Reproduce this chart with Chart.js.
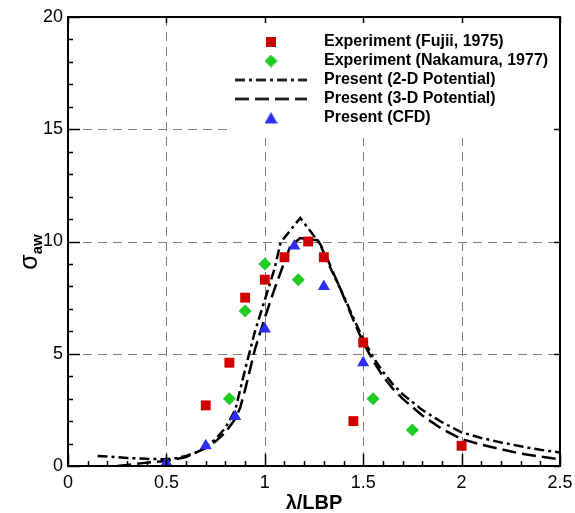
<!DOCTYPE html>
<html lang="en">
<head>
<meta charset="UTF-8">
<title>Added wave resistance</title>
<script src="https://cdn.jsdelivr.net/npm/chart.js"></script>
<style>
    body { margin: 0; background: white; }
</style>
</head>
<body>
<canvas id="chart" width="575" height="513"></canvas>
<script>
// experiments
const fujiiX = [0.7, 0.82, 0.9, 1.0, 1.1, 1.22, 1.3, 1.5, 1.45, 2.0];
const fujiiY = [2.7, 4.6, 7.5, 8.3, 9.3, 10.0, 9.3, 5.5, 2.0, 0.9];
const nakamuraX = [0.82, 0.9, 1.0, 1.17, 1.55, 1.75];
const nakamuraY = [3.0, 6.9, 9.0, 8.3, 3.0, 1.6];
// present calculations
const cfdX = [0.5, 0.7, 0.85, 1.0, 1.15, 1.3, 1.5];
const cfdY = [0.15, 0.9, 2.2, 6.1, 9.8, 8.0, 4.6];
const pot2dX = [0.15, 0.2, 0.3, 0.4, 0.5, 0.55, 0.6, 0.65, 0.7, 0.75, 0.8, 0.85, 0.9, 0.95, 1.0, 1.05, 1.08, 1.18, 1.28, 1.34, 1.4, 1.45, 1.5, 1.55, 1.6, 1.65, 1.7, 1.8, 1.9, 2.0, 2.1, 2.2, 2.3, 2.4, 2.5];
const pot2dY = [0.45, 0.42, 0.36, 0.32, 0.3, 0.35, 0.45, 0.6, 0.85, 1.2, 1.7, 2.5, 4.3, 6.0, 7.4, 8.8, 9.95, 11.05, 9.9, 8.7, 7.6, 6.6, 5.65, 4.85, 4.2, 3.65, 3.2, 2.5, 1.95, 1.5, 1.25, 1.05, 0.88, 0.72, 0.6];
const pot3dX = [0.25, 0.3, 0.4, 0.5, 0.6, 0.7, 0.75, 0.8, 0.85, 0.875, 0.9, 0.95, 1.0, 1.05, 1.1, 1.13, 1.18, 1.27, 1.3, 1.4, 1.45, 1.5, 1.55, 1.6, 1.65, 1.7, 1.8, 1.9, 2.0, 2.1, 2.2, 2.3, 2.4, 2.5];
const pot3dY = [0.0, 0.05, 0.15, 0.22, 0.4, 0.8, 1.1, 1.5, 2.1, 2.6, 3.4, 5.2, 6.6, 7.9, 9.1, 9.8, 10.15, 10.05, 9.6, 7.55, 6.5, 5.5, 4.7, 4.0, 3.45, 3.0, 2.25, 1.65, 1.2, 0.95, 0.75, 0.55, 0.42, 0.3];

const xTickStep = 0.5, xMinorStep = 0.1;
const yTickStep = 5, yMinorStep = 1;

const red = 'rgb(208,0,0)';
const green = 'rgb(34,204,34)';
const blue = 'rgb(45,45,245)';
const fontFam = "'Liberation Sans', Arial, sans-serif";

function toPts(xs, ys) {
    return xs.map((x, i) => ({ x: x, y: ys[i] }));
}

// small canvases used as legend symbols
function makeIcon(w, h, draw) {
    const c = document.createElement('canvas');
    c.width = w;
    c.height = h;
    draw(c.getContext('2d'));
    return c;
}
const iconSquare = makeIcon(10, 10, g => { g.fillStyle = red; g.fillRect(0, 0, 10, 10); });
const iconDiamond = makeIcon(13, 13, g => {
    g.fillStyle = green;
    g.beginPath(); g.moveTo(6.5, 0); g.lineTo(13, 6.5); g.lineTo(6.5, 13); g.lineTo(0, 6.5); g.closePath(); g.fill();
});
const iconDashDot = makeIcon(72, 5, g => {
    g.strokeStyle = '#000'; g.lineWidth = 2.5; g.setLineDash([10, 4, 3, 4]);
    g.beginPath(); g.moveTo(0, 2.5); g.lineTo(72, 2.5); g.stroke();
});
const iconDash = makeIcon(72, 5, g => {
    g.strokeStyle = '#000'; g.lineWidth = 2.5; g.setLineDash([14, 6]);
    g.beginPath(); g.moveTo(0, 2.5); g.lineTo(72, 2.5); g.stroke();
});
const iconTri = makeIcon(13, 12, g => {
    g.fillStyle = blue;
    g.beginPath(); g.moveTo(6.5, 0); g.lineTo(13, 11.5); g.lineTo(0, 11.5); g.closePath(); g.fill();
});
const legendIcons = [iconSquare, iconDiamond, iconDashDot, iconDash, iconTri];

// dashed grid drawn under everything, then blanked behind the legend
const gridBehind = {
    id: 'gridBehind',
    beforeDraw(chart) {
        const { ctx, chartArea: a, scales: { x, y } } = chart;
        ctx.save();
        ctx.fillStyle = '#fff';
        ctx.fillRect(0, 0, chart.width, chart.height);
        ctx.strokeStyle = '#808080';
        ctx.lineWidth = 1;
        ctx.setLineDash([9, 6]);
        ctx.beginPath();
        x.ticks.forEach(t => {
            if (t.value <= x.min || t.value >= x.max) return;
            const p = Math.round(x.getPixelForValue(t.value)) + 0.5;
            ctx.moveTo(p, a.top); ctx.lineTo(p, a.bottom);
        });
        y.ticks.forEach(t => {
            if (t.value <= y.min || t.value >= y.max) return;
            const p = Math.round(y.getPixelForValue(t.value)) + 0.5;
            ctx.moveTo(a.left, p); ctx.lineTo(a.right, p);
        });
        ctx.stroke();
        ctx.fillStyle = '#fff';
        ctx.fillRect(230, a.top + 2, a.right - 232, 119);
        ctx.restore();
    }
};

// move the legend box to the upper right of the plot
const placeLegend = {
    id: 'placeLegend',
    afterLayout(chart) {
        const lg = chart.legend;
        lg.left = 223;
        lg.top = 31;
        lg.right = chart.chartArea.right;
        lg.bottom = 150;
    }
};

// frame, inward ticks and the y title
const frame = {
    id: 'frame',
    afterDraw(chart) {
        const { ctx, chartArea: a, scales: { x, y } } = chart;
        ctx.save();
        ctx.strokeStyle = '#000';
        ctx.lineWidth = 1.5;
        ctx.beginPath();
        for (let v = x.min; v <= x.max + 1e-9; v += xMinorStep) {
            const p = Math.round(x.getPixelForValue(v)) + 0.5;
            const major = Math.abs(v / xTickStep - Math.round(v / xTickStep)) < 1e-6;
            ctx.moveTo(p, a.bottom); ctx.lineTo(p, a.bottom - (major ? 12 : 5));
            if (major) { ctx.moveTo(p, a.top); ctx.lineTo(p, a.top + 6); }
        }
        for (let v = y.min; v <= y.max + 1e-9; v += yMinorStep) {
            const p = Math.round(y.getPixelForValue(v)) + 0.5;
            const major = Math.abs(v / yTickStep - Math.round(v / yTickStep)) < 1e-6;
            ctx.moveTo(a.left, p); ctx.lineTo(a.left + (major ? 12 : 5), p);
            if (major) { ctx.moveTo(a.right, p); ctx.lineTo(a.right - 6, p); }
        }
        ctx.stroke();
        ctx.lineWidth = 2;
        ctx.strokeRect(a.left, a.top, a.right - a.left, a.bottom - a.top);

        // sigma with subscript
        ctx.translate(37, 252);
        ctx.rotate(-Math.PI / 2);
        ctx.fillStyle = '#000';
        ctx.textBaseline = 'alphabetic';
        const fSig = '25px ' + fontFam, fSub = 'bold 15px ' + fontFam;
        ctx.font = fSig;
        const sw = ctx.measureText('σ').width;
        ctx.font = fSub;
        const aw = ctx.measureText('aw').width;
        const x0 = -(sw + aw) / 2;
        ctx.font = fSig;
        ctx.fillText('σ', x0, 0);
        ctx.font = fSub;
        ctx.fillText('aw', x0 + sw, 5);
        ctx.restore();
    }
};

const tickFont = { family: fontFam, size: 18 };

new Chart(document.getElementById('chart'), {
    type: 'scatter',
    data: {
        datasets: [{
            label: 'Experiment (Fujii, 1975)',
            data: toPts(fujiiX, fujiiY),
            pointStyle: 'rect',
            pointRadius: 7,
            backgroundColor: red,
            borderColor: red,
            borderWidth: 0,
            order: 0
        }, {
            label: 'Experiment (Nakamura, 1977)',
            data: toPts(nakamuraX, nakamuraY),
            pointStyle: 'rectRot',
            pointRadius: 6.5,
            backgroundColor: green,
            borderColor: green,
            borderWidth: 0,
            order: 0
        }, {
            label: 'Present (2-D Potential)',
            data: toPts(pot2dX, pot2dY),
            showLine: true,
            borderColor: '#000',
            backgroundColor: '#000',
            borderWidth: 2.5,
            borderDash: [10, 4, 3, 4],
            pointRadius: 0,
            tension: 0,
            order: 1
        }, {
            label: 'Present (3-D Potential)',
            data: toPts(pot3dX, pot3dY),
            showLine: true,
            borderColor: '#000',
            backgroundColor: '#000',
            borderWidth: 2.5,
            borderDash: [14, 6],
            pointRadius: 0,
            tension: 0,
            order: 1
        }, {
            label: 'Present (CFD)',
            data: toPts(cfdX, cfdY),
            pointStyle: 'triangle',
            pointRadius: 7,
            backgroundColor: blue,
            borderColor: blue,
            borderWidth: 0,
            order: 0
        }]
    },
    options: {
        responsive: false,
        animation: false,
        devicePixelRatio: 1,
        layout: { padding: { top: 17, right: 15, left: 0, bottom: 0 } },
        plugins: {
            tooltip: { enabled: false },
            legend: {
                position: 'chartArea',
                align: 'start',
                labels: {
                    usePointStyle: true,
                    pointStyleWidth: 90,
                    padding: 3,
                    color: '#000',
                    font: { family: fontFam, size: 16, weight: 'bold' },
                    sort: (a, b) => a.datasetIndex - b.datasetIndex,
                    generateLabels(chart) {
                        const items = Chart.defaults.plugins.legend.labels.generateLabels(chart);
                        items.forEach(it => { it.pointStyle = legendIcons[it.datasetIndex]; });
                        return items;
                    }
                }
            }
        },
        scales: {
            x: {
                type: 'linear',
                min: 0,
                max: 2.5,
                ticks: {
                    stepSize: xTickStep, padding: 6, color: '#000', font: tickFont, maxRotation: 0,
                    callback: v => String(Math.round(v * 10) / 10)
                },
                grid: { display: false, drawTicks: false },
                border: { display: false },
                title: {
                    display: true,
                    text: 'λ/LBP',
                    color: '#000',
                    font: { family: fontFam, size: 20, weight: 'bold', lineHeight: 1 },
                    padding: { top: 0, bottom: 0 }
                },
                afterFit: s => { s.height = 47; s.paddingLeft = 0; s.paddingRight = 0; }
            },
            y: {
                type: 'linear',
                min: 0,
                max: 20,
                ticks: { stepSize: yTickStep, padding: 5, color: '#000', font: tickFont },
                grid: { display: false, drawTicks: false },
                border: { display: false },
                afterFit: s => { s.width = 68; }
            }
        }
    },
    plugins: [gridBehind, placeLegend, frame]
});
</script>
</body>
</html>
